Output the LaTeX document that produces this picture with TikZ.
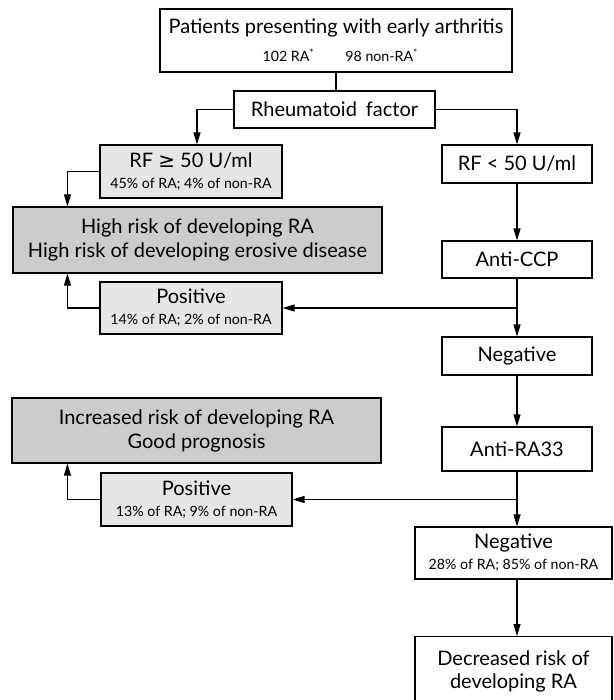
\documentclass[tikz,border=0pt]{standalone}
\usepackage{fontspec}
\setmainfont{Lato}
\newfontfamily\symf{DejaVu Sans}
\usetikzlibrary{arrows.meta,calc}
\definecolor{lightbox}{HTML}{E6E6E6}
\definecolor{darkbox}{HTML}{CCCCCC}
\tikzset{
  box/.style={draw=black, line width=1.1pt, align=center, inner sep=0pt, font=\fontsize{20}{24}\selectfont},
  lbox/.style={box, fill=lightbox},
  dbox/.style={box, fill=darkbox},
  arr/.style={line width=1.1pt, -{Triangle[length=12pt,width=7pt]}},
  conn/.style={line width=1.1pt},
}
\newcommand{\subt}[1]{{\fontsize{14.2}{17}\selectfont #1}}
\begin{document}
\begin{tikzpicture}[x=1pt,y=-1pt]
\useasboundingbox (0,0) rectangle (613,700);
\clip (0,0) rectangle (613,700);
\fill[white] (0,0) rectangle (613,700);

\node[box, minimum width=352pt, minimum height=63pt] (top) at (336,40.5)
  {Patients presenting with early arthritis\\[4pt]\subt{\hspace{0.6em}102 RA\textsuperscript{*}\hspace{2.2em}98 non-RA\textsuperscript{*}}};
\node[box, minimum width=201pt, minimum height=37pt] (rf) at (334.5,109.5) {Rheumatoid\hspace{0.45em}factor};
\node[lbox, minimum width=182pt, minimum height=53pt] (rfhi) at (191,171.5)
  {RF {\symf ≥} 50 U/ml\\[-3pt]\subt{45\% of RA; 4\% of non-RA}};
\node[box, minimum width=150pt, minimum height=38pt] (rflo) at (517,164) {RF < 50 U/ml};
\node[dbox, minimum width=369pt, minimum height=66pt] (high) at (197.5,240)
  {High risk of developing RA\\High risk of developing erosive disease};
\node[lbox, minimum width=182pt, minimum height=52pt] (pos1) at (191,308)
  {Positive\\[-3pt]\subt{14\% of RA; 2\% of non-RA}};
\node[box, minimum width=150pt, minimum height=37pt] (ccp) at (517,259.5) {Anti-CCP};
\node[box, minimum width=150pt, minimum height=38pt] (neg1) at (517,356) {Negative};
\node[box, minimum width=150pt, minimum height=44pt] (ra33) at (517,449) {Anti-RA33};
\node[dbox, minimum width=369pt, minimum height=65pt] (incr) at (196.5,430.5)
  {Increased risk of developing RA\\Good prognosis};
\node[lbox, minimum width=191pt, minimum height=53pt] (pos2) at (196.5,499.5)
  {Positive\\[-3pt]\subt{13\% of RA; 9\% of non-RA}};
\node[box, minimum width=197pt, minimum height=52pt] (neg2) at (513.5,553)
  {Negative\\[-3pt]\subt{28\% of RA; 85\% of non-RA}};
\node[box, minimum width=197pt, minimum height=84pt, anchor=north] (decr) at (513.5,636)
  {\\[-34pt]Decreased risk of\\[-1pt]developing RA};

\coordinate (hiin) at ($(high.north west)+(55,0)$);
\coordinate (hiout) at ($(high.south west)+(55,0)$);
\coordinate (incout) at ($(incr.south west)+(56,0)$);
\coordinate (rfhiin) at ($(rfhi.north)+(6,0)$);

\draw[conn] (top.south) -- (top.south |- rf.north);
\draw[arr] (rf.west) -| (rfhiin);
\draw[arr] (rf.east) -| (rflo.north);
\draw[arr] (rfhi.west) -| (hiin);
\draw[arr] (pos1.west) -| (hiout);
\draw[arr] (rflo.south) -- (ccp.north);
\draw[arr] (ccp.south) -- (neg1.north);
\draw[arr] (ccp.south |- pos1.east) -- (pos1.east);
\draw[arr] (neg1.south) -- (ra33.north);
\draw[arr] (ra33.south) -- (ra33.south |- neg2.north);
\draw[arr] (ra33.south |- pos2.east) -- (pos2.east);
\draw[arr] (pos2.west) -| (incout);
\draw[arr] (ra33.south |- neg2.south) -- (ra33.south |- decr.north);
\end{tikzpicture}
\end{document}
